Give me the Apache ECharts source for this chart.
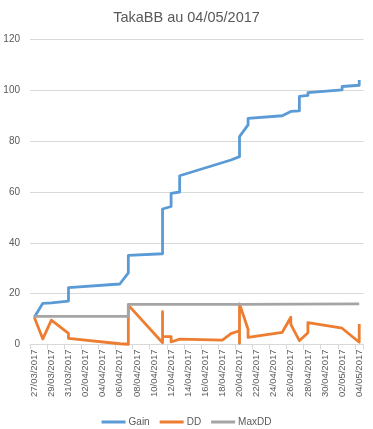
<!DOCTYPE html>
<html>
<head>
<meta charset="utf-8">
<script src="https://cdn.jsdelivr.net/npm/echarts@6/dist/echarts.min.js"></script>
<style>
html,body{margin:0;padding:0;background:#fff;}
#c{width:373px;height:429px;}
</style>
</head>
<body>
<div id="c"></div>
<script>
var titleText = 'TakaBB au 04/05/2017';
var categories = ['27/03/2017','28/03/2017','29/03/2017','30/03/2017','31/03/2017','01/04/2017','02/04/2017','03/04/2017','04/04/2017','05/04/2017','06/04/2017','07/04/2017','08/04/2017','09/04/2017','10/04/2017','11/04/2017','12/04/2017','13/04/2017','14/04/2017','15/04/2017','16/04/2017','17/04/2017','18/04/2017','19/04/2017','20/04/2017','21/04/2017','22/04/2017','23/04/2017','24/04/2017','25/04/2017','26/04/2017','27/04/2017','28/04/2017','29/04/2017','30/04/2017','01/05/2017','02/05/2017','03/05/2017','04/05/2017'];
var yTicks = [0, 20, 40, 60, 80, 100, 120];

var gain = [
  ['27/03/2017',10.7],['28/03/2017',16.2],['29/03/2017',16.4],['31/03/2017',17.1],['31/03/2017',22.4],
  ['06/04/2017',23.8],['07/04/2017',28.2],['07/04/2017',35.1],['11/04/2017',35.7],['11/04/2017',53.3],
  ['12/04/2017',54.3],['12/04/2017',59.5],['13/04/2017',60.0],['13/04/2017',66.4],['19/04/2017',72.6],
  ['20/04/2017',73.9],['20/04/2017',81.8],['21/04/2017',86.4],['21/04/2017',89.0],['25/04/2017',90.0],
  ['26/04/2017',91.7],['27/04/2017',91.9],['27/04/2017',97.6],['28/04/2017',98.0],['28/04/2017',99.1],
  ['02/05/2017',100.2],['02/05/2017',101.5],['04/05/2017',102.0],['04/05/2017',104.1]
];
var dd = [
  ['27/03/2017',10.7],['28/03/2017',2.2],['29/03/2017',9.6],['31/03/2017',4.4],['31/03/2017',2.4],
  ['06/04/2017',0.3],['07/04/2017',0.1],['07/04/2017',15.5],['11/04/2017',0.7],['11/04/2017',12.9],
  ['11/04/2017',3.1],['12/04/2017',3.1],['12/04/2017',1.0],['13/04/2017',2.1],['18/04/2017',1.7],
  ['19/04/2017',4.3],['20/04/2017',5.4],['20/04/2017',0.5],['20/04/2017',16.0],['21/04/2017',6.0],
  ['21/04/2017',2.8],['25/04/2017',4.8],['26/04/2017',10.7],['26/04/2017',7.9],['27/04/2017',1.5],
  ['28/04/2017',4.6],['28/04/2017',8.6],['02/05/2017',6.4],['04/05/2017',0.9],['04/05/2017',8.1]
];
var maxdd = [
  ['27/03/2017',11.1],['07/04/2017',11.1],['07/04/2017',15.8],['20/04/2017',15.8],['20/04/2017',16.0],['04/05/2017',16.0]
];

var FONT = 'Liberation Sans';
var TXT = '#595959';
var chart = echarts.init(document.getElementById('c'), null, {renderer:'canvas'});
function line(name, data, color) {
  return {
    name: name, type: 'line', data: data, showSymbol: false, symbol: 'none',
    lineStyle: {color: color, width: 2.8, join: 'round'}, itemStyle: {color: color},
    animation: false, z: 2
  };
}
chart.setOption({
  animation: false,
  title: {
    text: titleText, left: 'center', top: 5,
    textStyle: {fontFamily: FONT, fontSize: 14.5, fontWeight: 'normal', color: TXT}
  },
  legend: {
    left: 'center', top: 412, icon: 'rect', itemWidth: 24, itemHeight: 3, itemGap: 10,
    textStyle: {fontFamily: FONT, fontSize: 10, color: TXT, padding: [0,0,0,-2]},
    data: ['Gain', 'DD', 'MaxDD']
  },
  grid: {left: 30, right: 9.5, top: 39.5, bottom: 84.5, containLabel: false},
  xAxis: {
    type: 'category', data: categories, boundaryGap: true,
    axisLine: {lineStyle: {color: '#d9d9d9', width: 1}},
    axisTick: {show: true, interval: 1, length: 5, lineStyle: {color: '#d9d9d9'}},
    axisLabel: {interval: 1, rotate: 90, margin: 5, fontFamily: FONT, fontSize: 9.5, color: TXT},
    splitLine: {show: false}
  },
  yAxis: {
    type: 'value', min: yTicks[0], max: yTicks[yTicks.length-1], interval: 20,
    axisLine: {show: false}, axisTick: {show: false},
    axisLabel: {fontFamily: FONT, fontSize: 10, color: TXT, margin: 10},
    splitLine: {lineStyle: {color: '#d9d9d9', width: 1}}
  },
  series: [
    line('Gain', gain, '#5B9BD5'),
    line('DD', dd, '#ED7D31'),
    line('MaxDD', maxdd, '#A5A5A5')
  ]
});
</script>
</body>
</html>
